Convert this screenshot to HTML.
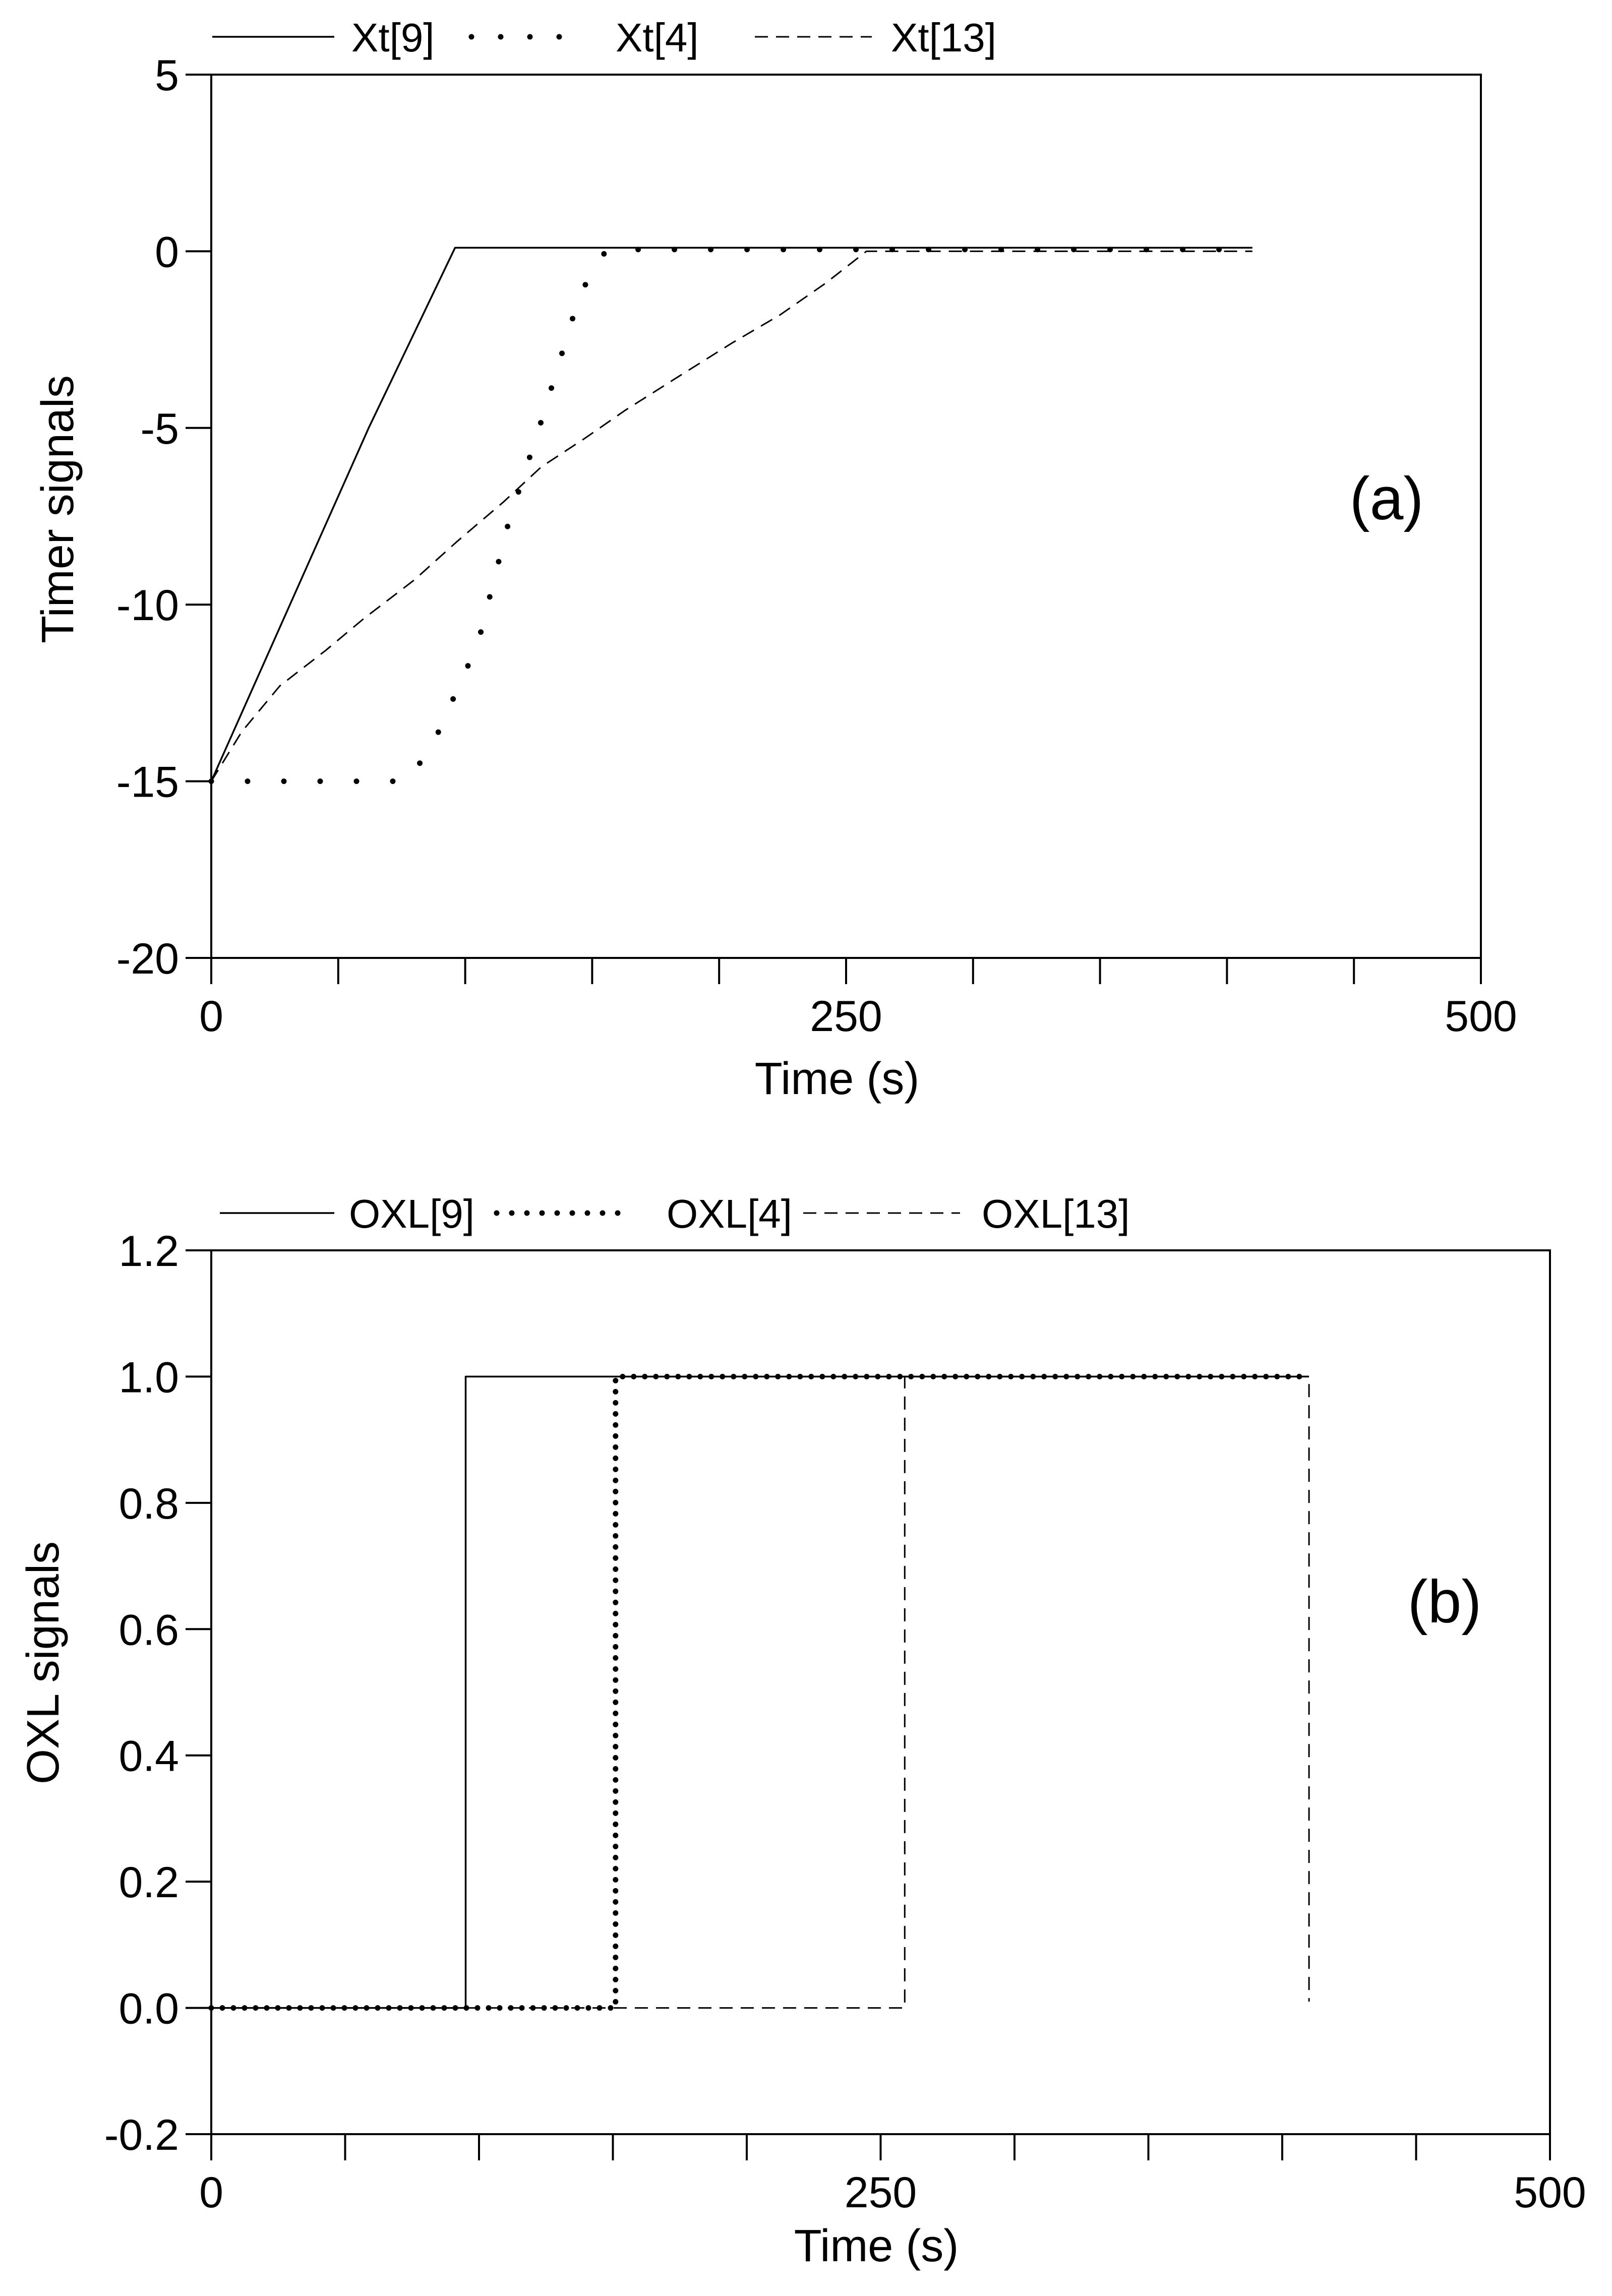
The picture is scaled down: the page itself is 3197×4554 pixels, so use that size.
<!DOCTYPE html>
<html><head><meta charset="utf-8"><style>
html,body{margin:0;padding:0;background:#fff;}
svg{display:block;font-family:"Liberation Sans",Arial,sans-serif;}
</style></head><body>
<svg id="fig" width="3197" height="4554" viewBox="0 0 3197 4554" xmlns="http://www.w3.org/2000/svg">
<rect width="3197" height="4554" fill="#fff"/>
<g id="chartA"></g>
<g id="chartB"></g>
</svg>
<script>
// ---- Chart (a) data ----
const aXt9T = [0, 62, 96, 410];
const aXt9V = [-15, -5, 0.1, 0.1];
const aXt4T = [0, 77, 87, 105, 117, 130, 144, 150, 156, 410];
const aXt4V = [-15, -15, -14, -11.1, -7.7, -4.8, -1.5, -0.5, 0.05, 0.05];
const aXt13T = [0, 12, 27, 45, 60, 80, 97, 115, 130, 147, 163, 185, 205, 224, 242, 258, 410];
const aXt13V = [-15, -13.6, -12.3, -11.3, -10.4, -9.3, -8.2, -7.1, -6.1, -5.3, -4.5, -3.5, -2.6, -1.8, -0.9, 0, 0];
const aYTicks = [5, 0, -5, -10, -15, -20];
const aXTickLabels = [0, 250, 500];
// ---- Chart (b) data ----
const bOxl9T = [0, 95, 95, 410];
const bOxl9V = [0, 0, 1, 1];
const bOxl4T = [0, 151, 151, 410];
const bOxl4V = [0, 0, 1, 1];
const bOxl13T = [0, 259, 259, 410, 410];
const bOxl13V = [0, 0, 1, 1, 0.01];
const bYTicks = [1.2, 1.0, 0.8, 0.6, 0.4, 0.2, 0.0, -0.2];
const bXTickLabels = [0, 250, 500];

const NS = "http://www.w3.org/2000/svg";
function mk(parent, tag, attrs, text) {
  const e = document.createElementNS(NS, tag);
  for (const k in attrs) e.setAttribute(k, attrs[k]);
  if (text !== undefined) e.textContent = text;
  parent.appendChild(e);
  return e;
}
function styleOf(name, dotGap) {
  if (name === "solid") return {"stroke-width": 3.5};
  if (name === "dashed") return {"stroke-width": 3, "stroke-dasharray": "26 16"};
  return {"stroke-width": 11, "stroke-dasharray": "0 " + dotGap, "stroke-linecap": "round"};
}

function drawChart(g, cfg) {
  const sx = v => cfg.x0 + (v - cfg.xmin) / (cfg.xmax - cfg.xmin) * (cfg.x1 - cfg.x0);
  const sy = v => cfg.y1 + (v - cfg.ymin) / (cfg.ymax - cfg.ymin) * (cfg.y0 - cfg.y1);
  const frame = mk(g, "rect", {x: cfg.x0, y: cfg.y0, width: cfg.x1 - cfg.x0, height: cfg.y1 - cfg.y0, fill: "none", stroke: "#000", "stroke-width": 4});
  
  
  cfg.yTicks.forEach(v => {
    const y = sy(v);
    const t = mk(g, "line", {x1: cfg.x0 - 51, x2: cfg.x0, y1: y, y2: y, stroke: "#000", "stroke-width": 4});
    
    
    const l = mk(g, "text", {x: cfg.x0 - 64, y: y + 31, "font-size": 86, "text-anchor": "end"}, cfg.yFmt(v));
    
    
  });
  for (let v = cfg.xmin; v <= cfg.xmax; v += 50) {
    const x = sx(v);
    const t = mk(g, "line", {x1: x, x2: x, y1: cfg.y1, y2: cfg.y1 + 52, stroke: "#000", "stroke-width": 4});
    
    
  }
  cfg.xTicks.forEach(v => {
    const l = mk(g, "text", {x: sx(v), y: cfg.xLabelY, "font-size": 86, "text-anchor": "middle"}, String(v));
    
    
  });
  const xt = mk(g, "text", {x: cfg.xTitleX, y: cfg.xTitleY, "font-size": 90, "text-anchor": "middle"}, "Time (s)");
  
  
  const yt = mk(g, "text", {x: 0, y: 0, "font-size": 90, "text-anchor": "middle", transform: `translate(${cfg.yTitleX},${cfg.yTitleY}) rotate(-90)`}, cfg.yTitle);
  
  
  const pl = mk(g, "text", {x: cfg.panelX, y: cfg.panelY, "font-size": 120, "text-anchor": "middle"}, cfg.panel);
  
  
  cfg.series.forEach(s => {
    const pts = s.t.map((t, i) => sx(t).toFixed(1) + "," + sy(s.v[i]).toFixed(1)).join(" ");
    const attrs = Object.assign({points: pts, fill: "none", stroke: "#000", "stroke-linejoin": "round"}, styleOf(s.style, cfg.dotGap));
    const p = mk(g, "polyline", attrs);
    
    
  });
  cfg.legend.forEach(e => {
    const ln = mk(g, "line", Object.assign({x1: e.lx0, x2: e.lx1, y1: cfg.legY, y2: cfg.legY, stroke: "#000"}, styleOf(e.style, cfg.legDotGap)));
    
    
    const tx = mk(g, "text", {x: e.tx, y: cfg.legY + 29, "font-size": 80}, e.label);
    
    
  });
}

drawChart(document.getElementById("chartA"), {
  x0: 419, x1: 2937, y0: 148, y1: 1900, xmin: 0, xmax: 500, ymin: -20, ymax: 5,
  yTicks: aYTicks, yFmt: v => String(v), xTicks: aXTickLabels, xLabelY: 2045,
  xTitleX: 1660, xTitleY: 2170, yTitle: "Timer signals", yTitleX: 145, yTitleY: 1010,
  panel: "(a)", panelX: 2750, panelY: 1030, legY: 73, dotGap: 72, legDotGap: 58,
  series: [
    {name: "xt9-line", t: aXt9T, v: aXt9V, style: "solid"},
    {name: "xt4-line", t: aXt4T, v: aXt4V, style: "dotted"},
    {name: "xt13-line", t: aXt13T, v: aXt13V, style: "dashed"}
  ],
  legend: [
    {lx0: 421, lx1: 663, tx: 697, label: "Xt[9]", style: "solid"},
    {lx0: 935, lx1: 1165, tx: 1221, label: "Xt[4]", style: "dotted"},
    {lx0: 1497, lx1: 1729, tx: 1767, label: "Xt[13]", style: "dashed"}
  ]
});

drawChart(document.getElementById("chartB"), {
  x0: 419, x1: 3074, y0: 2480, y1: 4233, xmin: 0, xmax: 500, ymin: -0.2, ymax: 1.2,
  yTicks: bYTicks, yFmt: v => v.toFixed(1), xTicks: bXTickLabels, xLabelY: 4378,
  xTitleX: 1738, xTitleY: 4485, yTitle: "OXL signals", yTitleX: 116, yTitleY: 3298,
  panel: "(b)", panelX: 2865, panelY: 3218, legY: 2406, dotGap: 22, legDotGap: 30,
  series: [
    {name: "oxl9-line", t: bOxl9T, v: bOxl9V, style: "solid"},
    {name: "oxl4-line", t: bOxl4T, v: bOxl4V, style: "dotted"},
    {name: "oxl13-line", t: bOxl13T, v: bOxl13V, style: "dashed"}
  ],
  legend: [
    {lx0: 436, lx1: 663, tx: 692, label: "OXL[9]", style: "solid"},
    {lx0: 985, lx1: 1244, tx: 1322, label: "OXL[4]", style: "dotted"},
    {lx0: 1593, lx1: 1904, tx: 1947, label: "OXL[13]", style: "dashed"}
  ]
});
</script>
</body></html>
